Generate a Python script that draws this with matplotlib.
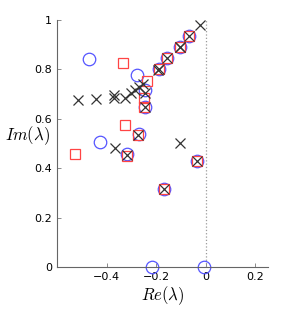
import matplotlib
matplotlib.use('Agg')
import matplotlib.pyplot as plt

plt.rcParams['mathtext.fontset'] = 'cm'

# blue circles
circ_re = [-0.471, -0.427, -0.319, -0.269, -0.279, -0.245, -0.245, -0.190, -0.157, -0.105, -0.067, -0.034, -0.168, -0.215, -0.007]
circ_im = [0.842, 0.507, 0.457, 0.538, 0.776, 0.717, 0.649, 0.800, 0.848, 0.889, 0.935, 0.430, 0.314, 0.0, 0.0]

# red squares
sq_re = [-0.335, -0.236, -0.249, -0.249, -0.327, -0.529, -0.319, -0.272, -0.190, -0.157, -0.105, -0.067, -0.034, -0.168]
sq_im = [0.825, 0.754, 0.683, 0.647, 0.574, 0.457, 0.449, 0.535, 0.800, 0.848, 0.889, 0.935, 0.430, 0.314]

# black crosses
x_re = [-0.516, -0.442, -0.372, -0.372, -0.325, -0.303, -0.286, -0.269, -0.255, -0.245, -0.245, -0.272, -0.366,
        -0.319, -0.104, -0.034, -0.168, -0.023, -0.067, -0.105, -0.103, -0.157, -0.190, -0.193]
x_im = [0.676, 0.679, 0.683, 0.698, 0.683, 0.705, 0.717, 0.728, 0.742, 0.703, 0.649, 0.535, 0.483,
        0.455, 0.503, 0.430, 0.314, 0.980, 0.935, 0.889, 0.892, 0.848, 0.800, 0.797]

xticks = [-0.4, -0.2, 0, 0.2]
yticks = [0, 0.2, 0.4, 0.6, 0.8, 1]

fig = plt.figure(figsize=(2.95, 3.12), dpi=100)
ax = fig.add_axes([0.193, 0.144, 0.715, 0.792])

ax.plot([0, 0], [0, 1], ls=':', color='#999999', lw=0.9)
ax.plot(circ_re, circ_im, 'o', ms=9, mfc='none', mec='#5555ff', mew=0.9, clip_on=False)
ax.plot(sq_re, sq_im, 's', ms=7.5, mfc='none', mec='#ff4444', mew=0.9, clip_on=False)
ax.plot(x_re, x_im, 'x', ms=7, color='#333333', mew=0.9, clip_on=False)

ax.set_xlim(-0.6, 0.25)
ax.set_ylim(0, 1)
ax.set_xticks(xticks, ['\u22120.4', '\u22120.2', '0', '0.2'])
ax.set_yticks(yticks, ['0', '0.2', '0.4', '0.6', '0.8', '1'])
ax.tick_params(direction='in', length=3, labelsize=8, color='#777777', width=0.6)
for s in ['top', 'right']:
    ax.spines[s].set_visible(False)
for s in ['left', 'bottom']:
    ax.spines[s].set_color('#666666')
    ax.spines[s].set_linewidth(0.8)

ax.set_xlabel(r'$Re(\lambda)$', fontsize=12, labelpad=2)
ax.set_ylabel(r'$Im(\lambda)$', fontsize=12, rotation=0, ha='center', va='center')
ax.yaxis.set_label_coords(-0.14, 0.53)

fig.savefig('out.png', dpi=100)
